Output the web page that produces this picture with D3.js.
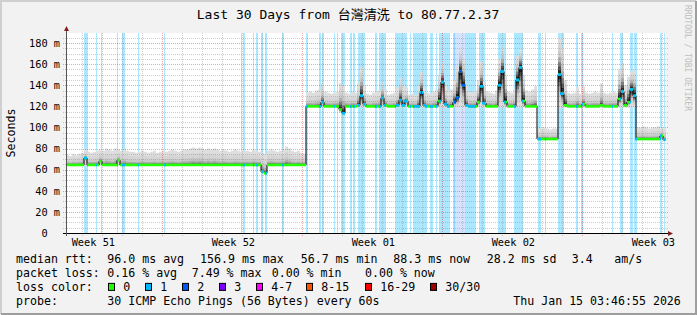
<!DOCTYPE html>
<html>
<head>
<meta charset="utf-8">
<script src="https://cdnjs.cloudflare.com/ajax/libs/d3/7.8.5/d3.min.js"></script>
<style>
    body { margin: 0; background: #f2f2f2; }
    text { font-family: "DejaVu Sans Mono", "Noto Sans CJK TC", monospace; }
</style>
</head>
<body>
<div id="chart"></div>
<script>

// ---- data ----
var title = "Last 30 Days from 台灣清洗 to 80.77.2.37";
var startTime = Date.UTC(2025, 11, 16, 3, 46, 55);   // 30 days back from the stamp
var binHours = 3.6;

// median rtt per 3.6h bin (ms)
var med = [
    64.5, 64.5, 64.5, 64.5, 64.5, 64.5, 71, 64.5, 64.5, 64.5, 64.5, 68, 64.5, 64.5, 64.5, 64.5, 64.5, 69, 64.5, 64.5,
    64.5, 64.5, 64.5, 64.5, 64.5, 64.5, 64.5, 64.5, 64.5, 64.5, 64.5, 64.5, 64.5, 64.5, 64.5, 64.5, 64.5, 64.5, 64.5, 64.5,
    64.5, 64.5, 64.5, 64.5, 64.5, 64.5, 64.5, 64.5, 64.5, 64.5, 64.5, 64.5, 64.5, 64.5, 64.5, 64.5, 64.5, 64.5, 64.5, 64.5,
    64.5, 64.5, 64.5, 64.5, 64.5, 58, 56.7, 64.5, 64.5, 64.5, 64.5, 64.5, 64.5, 64.5, 64.5, 64.5, 64.5, 64.5, 64.5, 64.5,
    120, 120, 120, 120, 120, 124, 120, 120, 120, 120, 120, 117, 113.5, 120, 120, 120, 120, 121, 130, 122,
    120, 120, 120, 120, 120, 128, 121, 120, 120, 120, 121, 126, 121, 125, 120, 120, 120, 120, 133, 121,
    120, 120, 120, 120, 125, 143, 122, 120, 120, 124, 128, 153, 140, 121, 120, 120, 120, 124, 139, 123,
    120, 120, 120, 120, 140, 153, 124, 120, 120, 120, 145, 156.9, 125, 120, 120, 120, 120, 89, 89, 89,
    89, 89, 89, 89, 150, 132, 121, 120, 120, 120, 120, 120, 122, 120, 120, 120, 120, 120, 121, 120,
    120, 120, 120, 120, 127, 134, 121, 124, 136, 130, 89, 89, 89, 89, 89, 89, 89, 89, 92, 88.3
];

// fastest ping per bin (ms)
var lo = [
    63.5, 63.5, 63.5, 63.5, 63.5, 63.5, 63.5, 63.5, 63.5, 63.5, 63.5, 63.5, 63.5, 63.5, 63.5, 63.5, 63.5, 63.5, 63.5, 63.5,
    63.5, 63.5, 63.5, 63.5, 63.5, 63.5, 63.5, 63.5, 63.5, 63.5, 63.5, 63.5, 63.5, 63.5, 63.5, 63.5, 63.5, 63.5, 63.5, 63.5,
    63.5, 63.5, 63.5, 63.5, 63.5, 63.5, 63.5, 63.5, 63.5, 63.5, 63.5, 63.5, 63.5, 63.5, 63.5, 63.5, 63.5, 63.5, 63.5, 63.5,
    63.5, 63.5, 63.5, 63.5, 63.5, 56.5, 56, 63.5, 63.5, 63.5, 63.5, 63.5, 63.5, 63.5, 63.5, 63.5, 63.5, 63.5, 63.5, 63.5,
    119, 119, 119, 119, 119, 119, 119, 119, 119, 119, 119, 114, 112.5, 119, 119, 119, 119, 119, 119, 119,
    119, 119, 119, 119, 119, 119, 119, 119, 119, 119, 119, 119, 119, 119, 119, 119, 119, 119, 119, 119,
    119, 119, 119, 119, 119, 119, 119, 119, 119, 119, 119, 119, 119, 119, 119, 119, 119, 119, 119, 119,
    119, 119, 119, 119, 119, 119, 119, 119, 119, 119, 119, 119, 119, 119, 119, 119, 119, 88, 88, 88,
    88, 88, 88, 88, 118, 119, 119, 119, 119, 119, 119, 119, 119, 119, 119, 119, 119, 119, 119, 119,
    119, 119, 119, 119, 119, 119, 119, 119, 119, 119, 88, 88, 88, 88, 88, 88, 88, 88, 89, 87.5
];

// slowest ping per bin (ms)
var hi = [
    74, 73, 75, 74, 75, 76, 79, 77, 76, 77, 78, 79, 78, 80, 79, 78, 80, 79, 78, 80,
    78, 77, 77, 76, 77, 78, 77, 76, 77, 78, 76, 77, 78, 77, 78, 79, 78, 77, 78, 79,
    79, 80, 81, 80, 81, 80, 79, 80, 79, 80, 79, 78, 79, 78, 77, 78, 79, 78, 77, 78,
    78, 77, 79, 78, 77, 76, 75, 78, 79, 78, 77, 78, 79, 82, 80, 78, 77, 78, 76, 75,
    133, 134, 133, 135, 136, 142, 134, 133, 132, 133, 134, 142, 140, 133, 132, 134, 133, 142, 157, 140,
    132, 131, 133, 134, 135, 143, 136, 131, 132, 133, 138, 147, 140, 138, 131, 132, 131, 140, 152, 138,
    133, 132, 134, 136, 150, 161, 140, 135, 136, 145, 158, 175, 165, 140, 134, 133, 135, 145, 162, 143,
    134, 133, 132, 135, 165, 177, 150, 134, 133, 136, 168, 174, 150, 135, 134, 136, 139, 99, 99, 100,
    99, 98, 99, 99, 185, 176, 145, 133, 132, 133, 138, 132, 139, 133, 132, 133, 134, 133, 142, 133,
    132, 133, 134, 133, 155, 161, 140, 148, 153, 155, 100, 100, 101, 100, 99, 100, 100, 101, 100, 99
];

// packet loss periods: start (days after graph start), length (hours), loss level
var lossStart = [0.925, 1.025, 1.5, 1.75, 2.55, 2.8, 3.6, 4.9, 8.75, 8.85, 9.35, 9.525, 9.775, 9.975, 10.825,
    12.025, 12.675, 12.8, 13.4, 13.55, 13.775, 14.2, 14.35, 14.6, 15.45, 15.7, 16.45, 17.2, 17.35, 17.75, 17.8,
    18.2, 18.5, 18.65, 19.35, 19.45, 19.95, 20.7, 21.6, 22.4, 23.6, 23.95, 24.6, 25.525, 25.775, 27.3, 27.7,
    28.2, 28.4, 29.7, 29.9];
var lossHours = [1.2, 1.2, 1.2, 1.2, 1.2, 3.6, 1.2, 1.2, 1.2, 2.4, 1.2, 1.2, 1.2, 1.2, 1.2,
    1.2, 1.2, 2.4, 1.2, 1.2, 3.6, 2.4, 2.4, 8.4, 2.4, 7.2, 14.4, 1.2, 9.6, 1.2, 6.0,
    3.6, 1.2, 13.2, 2.4, 12.0, 13.2, 6.0, 9.6, 10.8, 3.0, 1.2, 6.6, 1.2, 1.2, 1.2, 3.0,
    3.0, 3.6, 2.4, 1.2];
var lossLevel = [1, 1, 1, 1, 1, 1, 1, 1, 1, 1, 1, 1, 1, 1, 1,
    1, 1, 1, 1, 1, 1, 1, 1, 1, 1, 1, 1, 1, 1, 3, 1,
    1, 1, 1, 1, 2, 1, 1, 1, 1, 1, 1, 1, 1, 1, 1, 1,
    1, 1, 1, 1];

var lossLabels = ["0", "1", "2", "3", "4-7", "8-15", "16-29", "30/30"];
var lossColors = ["#20ff00", "#00b8ff", "#0059ff", "#7e00ff", "#ff00ff", "#ff5500", "#ff0000", "#a00000"];

var yTicks = [0, 20, 40, 60, 80, 100, 120, 140, 160, 180];
var weekLabels = ["Week 51", "Week 52", "Week 01", "Week 02", "Week 03"];

var rttStats = ["96.0 ms avg", "156.9 ms max", "56.7 ms min", "88.3 ms now", "28.2 ms sd", "3.4", "am/s"];
var lossStats = ["0.16 % avg", "7.49 % max", "0.00 % min", "0.00 % now"];
var probeText = "30 ICMP Echo Pings (56 Bytes) every 60s";
var stampText = "Thu Jan 15 03:46:55 2026";

// ---- drawing ----
var W = 697, H = 315;
var plot = {left: 66, right: 666, top: 33, bottom: 233};
var hourMs = 3600 * 1000, dayMs = 24 * hourMs;
var endTime = startTime + 30 * dayMs;

var svg = d3.select("#chart").append("svg")
    .attr("width", W)
    .attr("height", H);

// frame
svg.append("rect").attr("width", W).attr("height", H).attr("fill", "#f2f2f2");
svg.append("path").attr("d", "M1,314V1H696").attr("fill", "none").attr("stroke", "#cfcfcf").attr("stroke-width", 2);
svg.append("path").attr("d", "M1,314H696V1").attr("fill", "none").attr("stroke", "#9e9e9e").attr("stroke-width", 2);
svg.append("rect")
    .attr("x", plot.left).attr("y", plot.top)
    .attr("width", plot.right - plot.left).attr("height", plot.bottom - plot.top)
    .attr("fill", "#ffffff");

var x = d3.scaleUtc()
    .domain([new Date(startTime), new Date(endTime)])
    .range([plot.left, plot.right]);

var y = d3.scaleLinear()
    .domain([0, 189.5])
    .range([plot.bottom, plot.top]);

function tAt(hours) {
    return new Date(startTime + hours * hourMs);
}

var g = svg.append("g");

// loss background bands
lossStart.forEach(function (s, i) {
    var x0 = Math.floor(x(tAt(s * 24)));
    var x1 = Math.round(x(tAt(s * 24 + lossHours[i])));
    g.append("rect")
        .attr("x", x0)
        .attr("y", plot.top)
        .attr("width", Math.max(1, x1 - x0))
        .attr("height", plot.bottom - plot.top)
        .attr("fill", lossColors[lossLevel[i]])
        .attr("fill-opacity", lossLevel[i] > 1 ? 0.17 : 0.33);
});

// smoke
var pts = med.map(function (m, i) {
    return {t: tAt(i * binHours), m: m, lo: lo[i], hi: hi[i]};
});
var last = pts[pts.length - 1];
pts.push({t: new Date(endTime), m: last.m, lo: last.lo, hi: last.hi});

var smokeSteps = [1, 0.82, 0.64, 0.48, 0.34, 0.22, 0.12];
var smokeShades = ["#dedede", "#d5d5d5", "#cacaca", "#adadad", "#7e7e7e", "#4e4e4e", "#222222"];

// wide spreads keep the dark core tall, tight ones squeeze it onto the median
function spreadPow(d) {
    var r = d.hi - d.lo;
    return Math.max(1, Math.min(2, 2 - (r - 15) / 15));
}

smokeSteps.forEach(function (s, k) {
    var area = d3.area()
        .curve(d3.curveStepAfter)
        .x(function (d) { return x(d.t); })
        .y0(function (d) { return y(d.m - (d.m - d.lo) * Math.pow(s, spreadPow(d))); })
        .y1(function (d) { return y(d.m + (d.hi - d.m) * Math.pow(s, spreadPow(d))); });
    g.append("path")
        .datum(pts)
        .attr("d", area)
        .attr("fill", smokeShades[k]);
});

// grid
var grid = svg.append("g").attr("shape-rendering", "crispEdges");

d3.range(5, 190, 5).forEach(function (v) {
    var major = v % 20 === 0;
    var yy = Math.round(y(v)) + 0.5;
    grid.append("line")
        .attr("x1", plot.left - 3).attr("x2", plot.right + 2)
        .attr("y1", yy).attr("y2", yy)
        .attr("stroke", major ? "rgba(220,50,50,0.45)" : "rgba(130,130,130,0.4)")
        .attr("stroke-dasharray", "1,1");
});

var sundays = d3.utcSunday.range(new Date(startTime), new Date(endTime)).map(Number);
d3.utcDay.range(new Date(startTime), new Date(endTime)).forEach(function (d) {
    var major = sundays.indexOf(+d) >= 0;
    var xx = Math.floor(x(d)) + 0.5;
    grid.append("line")
        .attr("x1", xx).attr("x2", xx)
        .attr("y1", plot.top).attr("y2", plot.bottom + 3)
        .attr("stroke", major ? "rgba(220,50,50,0.45)" : "rgba(130,130,130,0.4)")
        .attr("stroke-dasharray", "1,1");
});

// median: black step line, green on top, loss colour where packets went missing
var medLine = d3.line()
    .curve(d3.curveStepAfter)
    .x(function (d) { return x(d.t); })
    .y(function (d) { return y(d.m); });

svg.append("path")
    .datum(pts)
    .attr("d", medLine)
    .attr("fill", "none")
    .attr("stroke", "#000")
    .attr("stroke-width", 1);

var medG = svg.append("g").attr("stroke-width", 2.6);

medG.selectAll(".med")
    .data(med)
    .enter().append("line")
    .attr("class", "med")
    .attr("x1", function (d, i) { return x(tAt(i * binHours)); })
    .attr("x2", function (d, i) { return x(tAt((i + 1) * binHours)); })
    .attr("y1", function (d) { return y(d); })
    .attr("y2", function (d) { return y(d); })
    .attr("stroke", lossColors[0]);

lossStart.forEach(function (s, j) {
    var a = s * 24, b = a + lossHours[j];
    med.forEach(function (m, i) {
        var t0 = i * binHours, t1 = t0 + binHours;
        if (a >= t1 || b <= t0) return;
        var x0 = Math.floor(x(tAt(Math.max(a, t0))));
        var x1 = Math.max(x0 + 1, Math.round(x(tAt(Math.min(b, t1)))));
        medG.append("line")
            .attr("x1", x0).attr("x2", x1)
            .attr("y1", y(m)).attr("y2", y(m))
            .attr("stroke", lossColors[lossLevel[j]]);
    });
});

// axes
svg.append("line")
    .attr("x1", plot.left - 3).attr("x2", plot.right + 3)
    .attr("y1", plot.bottom + 0.5).attr("y2", plot.bottom + 0.5)
    .attr("stroke", "#000");
svg.append("line")
    .attr("x1", plot.left + 0.5).attr("x2", plot.left + 0.5)
    .attr("y1", plot.bottom + 3).attr("y2", plot.top - 3)
    .attr("stroke", "#555");
svg.append("path")
    .attr("d", "M" + (plot.right + 2) + "," + (plot.bottom - 2) + "L" + (plot.right + 7) + "," + (plot.bottom + 0.5) +
        "L" + (plot.right + 2) + "," + (plot.bottom + 3) + "Z")
    .attr("fill", "#7f1f1f");
svg.append("path")
    .attr("d", "M" + (plot.left - 2) + "," + (plot.top - 2) + "L" + (plot.left + 0.5) + "," + (plot.top - 7) +
        "L" + (plot.left + 3) + "," + (plot.top - 2) + "Z")
    .attr("fill", "#7f1f1f");

var yAxis = d3.axisLeft(y)
    .tickValues(yTicks)
    .tickSize(0)
    .tickPadding(6)
    .tickFormat(function (d) { return d === 0 ? "0\u00a0\u00a0" : d + " m"; });

svg.append("g")
    .attr("transform", "translate(" + plot.left + ",0)")
    .call(yAxis)
    .call(function (a) { a.select(".domain").remove(); })
    .selectAll("text")
    .style("font-family", "DejaVu Sans Mono")
    .style("font-size", "10.3px")
    .attr("fill", "#000");

var weekTicks = d3.utcSunday.range(new Date(startTime - 7 * dayMs), new Date(endTime))
    .map(function (d) { return new Date(+d + 3.5 * dayMs); });

var xAxis = d3.axisBottom(x)
    .tickValues(weekTicks)
    .tickSize(0)
    .tickPadding(5.7)
    .tickFormat(function (d, i) { return weekLabels[i]; });

svg.append("g")
    .attr("transform", "translate(0," + plot.bottom + ")")
    .call(xAxis)
    .call(function (a) { a.select(".domain").remove(); })
    .selectAll("text")
    .style("font-family", "DejaVu Sans Mono")
    .style("font-size", "10.3px")
    .attr("fill", "#000");

// titles
svg.append("text")
    .attr("x", 348).attr("y", 19.3)
    .attr("text-anchor", "middle")
    .style("font-size", "13px")
    .text(title);

svg.append("text")
    .attr("transform", "translate(15,133) rotate(-90)")
    .attr("text-anchor", "middle")
    .style("font-size", "11.6px")
    .text("Seconds");

svg.append("text")
    .attr("transform", "translate(684.5,5) rotate(90)")
    .style("font-size", "8px")
    .attr("fill", "#bdbdbd")
    .text("RRDTOOL / TOBI OETIKER");

// legend
var legend = svg.append("g").style("font-size", "11.6px").attr("fill", "#000");
var rows = [263.3, 277.1, 290.9, 304.7];

function put(txt, xx, yy) {
    legend.append("text").attr("x", xx).attr("y", yy).text(txt);
}

put("median rtt:", 16, rows[0]);
[107.3, 200, 300.7, 393.3, 486.7, 571.7, 614.3].forEach(function (xx, i) {
    put(rttStats[i], xx, rows[0]);
});

put("packet loss:", 16, rows[1]);
[107.3, 191.7, 271.7, 365].forEach(function (xx, i) {
    put(lossStats[i], xx, rows[1]);
});

put("loss color:", 16, rows[2]);
[108.5, 145.5, 182.5, 219.5, 256.5, 306.5, 365.5, 430.5].forEach(function (xx, i) {
    legend.append("rect")
        .attr("x", xx).attr("y", rows[2] - 7.5)
        .attr("width", 6).attr("height", 7)
        .attr("fill", lossColors[i])
        .attr("stroke", "#000");
    put(lossLabels[i], xx + 14.8, rows[2]);
});

put("probe:", 16, rows[3]);
put(probeText, 107.3, rows[3]);
put(stampText, 513.3, rows[3]);

</script>
</body>
</html>
